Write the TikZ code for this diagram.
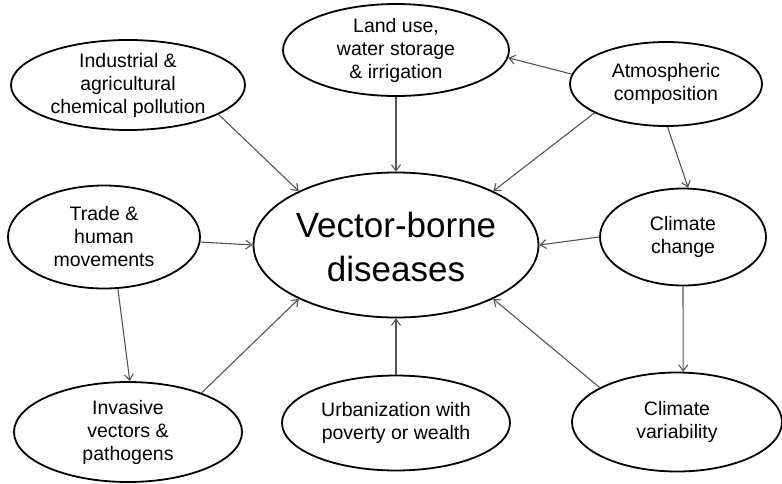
\documentclass[tikz,border=0pt]{standalone}
\usepackage{fontspec}
\setmainfont{Liberation Sans}
\usetikzlibrary{arrows.meta,shapes.geometric}
\definecolor{grisflecha}{RGB}{85,85,85}

\begin{document}
\begin{tikzpicture}[x=1pt,y=-1pt,
factor/.style={draw=black,line width=1.8pt,ellipse,inner sep=0pt,fill=white},
txt/.style={align=center,font=\fontsize{19.5}{23}\selectfont,inner sep=0pt},
txtgrande/.style={align=center,font=\fontsize{35}{44}\selectfont,inner sep=0pt,yshift=-2pt},
arr/.style={-{Straight Barb[length=6pt,width=9pt]},draw=grisflecha,line width=1.1pt}
]
\useasboundingbox (0,0) rectangle (782,483);

\node[factor,minimum width=234pt,minimum height=90pt,label={[txt]center:{Industrial \&\\agricultural\\chemical pollution}}] (ind) at (128,85) {};
\node[factor,minimum width=226pt,minimum height=92pt,label={[txt]center:{Land use,\\water storage\\\& irrigation}}] (lu) at (396,50) {};
\node[factor,minimum width=192pt,minimum height=84pt,label={[txt]center:{Atmospheric\\composition}}] (atm) at (666,84) {};
\node[factor,minimum width=166pt,minimum height=97pt,label={[txt]center:{Climate\\change}}] (cc) at (683,237) {};
\node[factor,minimum width=192pt,minimum height=103pt,label={[txt]center:{Trade \&\\human\\movements}}] (trd) at (104,237) {};
\node[factor,minimum width=285pt,minimum height=145pt,label={[txtgrande]center:{Vector-borne\\diseases}}] (vbd) at (396,245) {};
\node[factor,minimum width=228pt,minimum height=100pt,label={[txt]center:{Invasive\\vectors \&\\pathogens}}] (inv) at (128,432) {};
\node[factor,minimum width=228pt,minimum height=95pt,label={[txt]center:{Urbanization with\\poverty or wealth}}] (urb) at (396,423) {};
\node[factor,minimum width=210pt,minimum height=99pt,label={[txt]center:{Climate\\variability}}] (var) at (677,422) {};

\draw[arr] (ind.-18) -- (vbd.151);
\draw[arr] (lu.south) -- (vbd.north);
\draw[arr] (atm.174) -- (lu.-4);
\draw[arr] (atm.202) -- (vbd.29);
\draw[arr] (atm.-88) -- (cc.84);
\draw[arr] (cc.west) -- (vbd.east);
\draw[arr] (trd.-3) -- (vbd.west);
\draw[arr] (trd.-75) -- (inv.88);
\draw[arr] (inv.28) -- (vbd.209);
\draw[arr] (urb.north) -- (vbd.south);
\draw[arr] (cc.south) -- (var.83);
\draw[arr] (var.156) -- (vbd.-29);
\end{tikzpicture}
\end{document}
